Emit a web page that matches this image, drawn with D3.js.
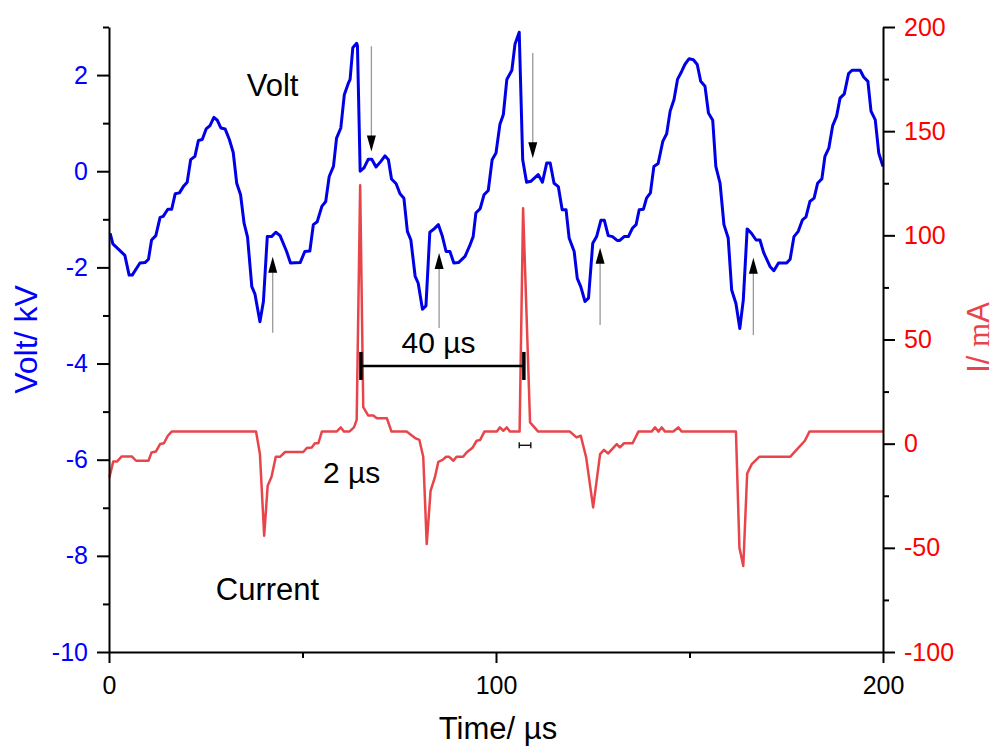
<!DOCTYPE html>
<html>
<head>
<meta charset="utf-8">
<script src="https://cdn.jsdelivr.net/npm/d3@7"></script>
<style>
  body { margin: 0; background: #fff; }
  svg { display: block; font-family: "Liberation Sans", Arial, sans-serif; }
</style>
</head>
<body>
<div id="chart"></div>
<script>
// voltage trace (time in µs, volt in kV)
const voltTime = [0.3, 1.0, 4.1, 5.2, 6.0, 8.0, 9.3, 10.2, 11.0, 12.1, 13.2, 14.0, 15.2, 16.2, 17.1, 18.2, 19.2, 20.2,
  21.1, 22.2, 23.1, 24.1, 25.1, 26.1, 27.1, 28.0, 28.9, 30.0, 31.1, 32.1, 33.0, 34.0, 34.9, 35.8, 36.9, 37.7, 39.0,
  39.9, 40.9, 42.0, 43.1, 44.2, 45.9, 46.9, 49.4, 50.6, 51.9, 52.8, 53.8, 55.0, 56.0, 56.9, 58.0, 58.8, 59.9, 60.8,
  61.8, 62.3, 63.0, 64.0, 64.2, 64.9, 65.9, 67.0, 67.9, 69.0, 70.2, 71.3, 72.2, 73.0, 74.2, 75.2, 76.2, 77.1, 78.0,
  79.1, 79.9, 81.0, 81.9, 82.9, 84.0, 85.1, 86.1, 87.1, 88.1, 89.1, 90.3, 92.0, 93.3, 94.1, 94.8, 95.9, 96.9, 98.0,
  99.0, 100.0, 101.0, 101.9, 102.8, 104.1, 104.9, 106.0, 106.9, 107.9, 109.0, 110.9, 112.0, 113.1, 114.0, 115.0,
  116.1, 117.1, 118.1, 118.9, 120.2, 121.0, 121.9, 123.0, 123.9, 125.0, 126.0, 127.1, 128.0, 129.0, 130.1, 131.3,
  132.0, 133.1, 134.2, 135.3, 136.2, 137.0, 138.1, 138.9, 139.9, 140.8, 141.9, 143.1, 144.1, 145.0, 146.0, 146.9,
  148.0, 148.8, 149.9, 151.0, 152.0, 152.9, 154.0, 154.9, 156.0, 156.8, 157.9, 158.9, 160.0, 160.9, 162.0, 163.0,
  163.9, 164.9, 166.0, 167.2, 168.2, 169.2, 170.8, 171.8, 173.0, 175.1, 176.0, 177.0, 178.1, 179.2, 180.1, 181.1,
  182.2, 183.1, 184.2, 185.0, 186.0, 187.0, 188.0, 188.9, 190.0, 191.1, 192.0, 194.1, 195.0, 196.1, 196.9, 198.0,
  198.9, 200.0];
const voltKV = [-1.29, -1.51, -1.75, -2.16, -2.16, -1.91, -1.90, -1.83, -1.43, -1.34, -0.96, -0.94, -0.79, -0.79,
  -0.47, -0.45, -0.32, -0.23, 0.24, 0.31, 0.64, 0.66, 0.88, 0.95, 1.12, 1.06, 0.90, 0.88, 0.66, 0.39, -0.25, -0.49,
  -1.08, -1.37, -2.40, -2.55, -3.13, -2.71, -1.36, -1.36, -1.27, -1.34, -1.67, -1.91, -1.90, -1.67, -1.66, -1.11,
  -1.05, -0.73, -0.63, -0.11, 0.10, 0.69, 0.90, 1.59, 1.82, 1.91, 2.57, 2.66, 2.61, 0.00, 0.07, 0.25, 0.25, 0.09,
  0.20, 0.32, 0.24, -0.16, -0.26, -0.47, -0.56, -1.25, -1.43, -2.18, -2.33, -2.87, -2.80, -1.27, -1.20, -1.11, -1.34,
  -1.67, -1.67, -1.91, -1.90, -1.77, -1.53, -1.36, -0.87, -0.78, -0.49, -0.40, 0.24, 0.38, 0.97, 1.18, 1.91, 2.10,
  2.64, 2.89, 0.24, -0.23, -0.21, -0.07, -0.23, 0.17, 0.17, -0.25, -0.32, -0.80, -0.80, -1.39, -1.67, -2.23, -2.40,
  -2.71, -2.64, -1.50, -1.36, -1.02, -1.02, -1.34, -1.36, -1.44, -1.44, -1.36, -1.36, -1.18, -1.11, -0.80, -0.79,
  -0.56, -0.45, 0.10, 0.16, 0.62, 0.78, 1.25, 1.49, 1.91, 2.08, 2.22, 2.34, 2.32, 2.22, 1.87, 1.77, 1.21, 1.06, 0.10,
  -0.25, -1.11, -1.39, -2.47, -2.75, -3.27, -2.68, -1.20, -1.29, -1.43, -1.43, -1.70, -1.98, -2.07, -1.91, -1.91,
  -1.83, -1.36, -1.25, -1.01, -0.95, -0.63, -0.56, -0.25, -0.16, 0.31, 0.48, 0.95, 1.14, 1.52, 1.61, 2.03, 2.10,
  2.10, 1.96, 1.87, 1.25, 1.07, 0.38, 0.10];

// current trace (time in µs, current in mA)
const currentTime = [0.1, 1.1, 2.1, 3.3, 5.9, 7.0, 10.2, 11.0, 12.1, 13.2, 14.2, 15.2, 16.2, 38.0, 39.0, 40.1, 41.0,
  42.0, 43.1, 44.2, 45.5, 50.2, 51.1, 52.4, 53.2, 54.1, 55.0, 58.8, 59.9, 60.7, 62.1, 63.3, 64.0, 64.9, 65.7, 67.0,
  68.3, 69.2, 71.8, 73.0, 76.9, 79.1, 80.2, 81.2, 82.1, 83.1, 84.2, 85.1, 86.2, 87.1, 87.9, 89.0, 89.8, 91.5, 92.4,
  94.0, 95.0, 95.9, 97.0, 100.2, 101.0, 101.9, 102.8, 103.6, 106.1, 107.0, 108.8, 110.9, 119.1, 120.8, 121.9, 123.3,
  125.1, 126.9, 127.9, 129.0, 131.2, 132.0, 133.1, 135.3, 136.8, 140.2, 141.1, 142.0, 142.8, 143.7, 145.8, 147.1,
  148.0, 162.0, 162.9, 163.9, 164.9, 166.1, 168.0, 176.0, 177.3, 179.8, 181.0, 200.0];
const currentMA = [-16.2, -8.5, -8.5, -6.1, -6.1, -8.2, -8.2, -4.2, -3.8, -0.2, 0.2, 3.8, 5.8, 5.8, -5.0, -44.2,
  -20.2, -15.9, -6.3, -6.3, -4.0, -4.0, -2.1, -1.8, 0.2, 0.2, 5.8, 5.8, 7.8, 5.8, 5.8, 7.8, 11.4, 124, 17.5, 13.5,
  13.5, 12.2, 12.2, 5.8, 5.8, 2.7, 1.8, -6.3, -48.2, -22.6, -16.2, -8.7, -7.8, -6.3, -6.3, -8.2, -6.3, -6.3, -4.2,
  -1.8, 1.4, 1.8, 5.8, 5.8, 7.8, 6.2, 7.8, 5.8, 5.8, 113, 10.2, 5.8, 5.8, 3.0, 3.8, -6.6, -30.6, -5.0, -3.0, -4.7,
  -0.2, -1.8, 0.2, 0.2, 5.8, 5.8, 7.8, 5.8, 7.8, 5.8, 5.8, 7.8, 5.8, 5.8, -49.9, -58.7, -14.3, -9.8, -6.3, -6.3,
  -3.7, 1.4, 5.8, 5.8];

const timeTicks = [0, 100, 200];
const timeMinorTicks = [50, 150];
const voltTicks = [-10, -8, -6, -4, -2, 0, 2];
const voltMinorTicks = [-9, -7, -5, -3, -1, 1, 3];
const currentTicks = [-100, -50, 0, 50, 100, 150, 200];
const currentMinorTicks = [-75, -25, 25, 75, 125, 175];

const width = 995;
const height = 747;
const plot = { left: 109, right: 883, top: 27, bottom: 652 };

const blue = '#0000e6';
const red = '#e8454b';
// plain hyphen for negatives, like the original
const plainFormat = (d) => String(d);

const svg = d3.select('#chart').append('svg')
  .attr('width', width)
  .attr('height', height);

const x = d3.scaleLinear().domain([0, 200]).range([plot.left, plot.right]);
const yVolt = d3.scaleLinear().domain([-10, 3]).range([plot.bottom, plot.top]);
const yCurrent = d3.scaleLinear().domain([-100, 200]).range([plot.bottom, plot.top]);

// traces
const currentLine = d3.line()
  .x((d, i) => x(currentTime[i]))
  .y((d) => yCurrent(d));
svg.append('path')
  .attr('d', currentLine(currentMA))
  .attr('fill', 'none')
  .attr('stroke', red)
  .attr('stroke-width', 2.5)
  .attr('stroke-linejoin', 'round');

const voltLine = d3.line()
  .x((d, i) => x(voltTime[i]))
  .y((d) => yVolt(d));
svg.append('path')
  .attr('d', voltLine(voltKV))
  .attr('fill', 'none')
  .attr('stroke', blue)
  .attr('stroke-width', 3)
  .attr('stroke-linejoin', 'round');

// arrows pointing at the voltage steps
function arrow(t, vFrom, vTo) {
  const px = x(t);
  const y0 = yVolt(vFrom);
  const y1 = yVolt(vTo);
  const dir = y1 < y0 ? 1 : -1;
  svg.append('line')
    .attr('x1', px).attr('x2', px)
    .attr('y1', y0).attr('y2', y1 + dir * 14)
    .attr('stroke', '#999')
    .attr('stroke-width', 1.3);
  svg.append('path')
    .attr('d', `M${px},${y1} L${px - 4.5},${y1 + dir * 16} L${px + 4.5},${y1 + dir * 16} Z`)
    .attr('fill', '#000');
}
arrow(42.3, -3.36, -1.78);
arrow(85.3, -3.26, -1.70);
arrow(126.9, -3.20, -1.59);
arrow(166.5, -3.41, -1.80);
arrow(67.8, 2.60, 0.41);
arrow(109.5, 2.46, 0.27);

// 40 µs bracket
const barY = yVolt(-4.05);
svg.append('line')
  .attr('x1', x(65.1)).attr('x2', x(107.2))
  .attr('y1', barY).attr('y2', barY)
  .attr('stroke', '#000').attr('stroke-width', 2.5);
[65.1, 107.2].forEach((t) => {
  svg.append('line')
    .attr('x1', x(t)).attr('x2', x(t))
    .attr('y1', barY - 14).attr('y2', barY + 14)
    .attr('stroke', '#000').attr('stroke-width', 3.5);
});

// small 2 µs marker
const smallY = yVolt(-5.70);
svg.append('line')
  .attr('x1', x(106.0)).attr('x2', x(109.0))
  .attr('y1', smallY).attr('y2', smallY)
  .attr('stroke', '#000').attr('stroke-width', 1.3);
[106.0, 109.0].forEach((t) => {
  svg.append('line')
    .attr('x1', x(t)).attr('x2', x(t))
    .attr('y1', smallY - 3).attr('y2', smallY + 3)
    .attr('stroke', '#000').attr('stroke-width', 1.3);
});

// text labels
function label(text, t, v, size) {
  svg.append('text')
    .attr('x', x(t))
    .attr('y', yVolt(v))
    .attr('font-size', size)
    .attr('fill', '#000')
    .text(text);
}
label('Volt', 35.6, 1.56, 31);
label('Current', 27.6, -8.92, 31);
label('40 µs', 75.6, -3.78, 30);
label('2 µs', 55.3, -6.49, 30);

// axes
function styleAxis(g, color, size) {
  g.select('.domain').attr('stroke', '#000').attr('stroke-width', 2);
  g.selectAll('.tick line').attr('stroke', '#000').attr('stroke-width', 2);
  g.selectAll('.tick text')
    .attr('fill', color)
    .attr('font-size', size)
    .attr('font-family', '"Liberation Sans", Arial, sans-serif');
}

const bottomMinor = svg.append('g')
  .attr('transform', `translate(0,${plot.bottom})`)
  .call(d3.axisBottom(x).tickValues(timeMinorTicks).tickSize(6).tickFormat(''));
bottomMinor.select('.domain').remove();
styleAxis(bottomMinor, '#000', 25);

const bottomAxis = svg.append('g')
  .attr('transform', `translate(0,${plot.bottom})`)
  .call(d3.axisBottom(x).tickValues(timeTicks).tickFormat(plainFormat)
    .tickSize(11).tickSizeOuter(0).tickPadding(13));
styleAxis(bottomAxis, '#000', 25);

const leftMinor = svg.append('g')
  .attr('transform', `translate(${plot.left},0)`)
  .call(d3.axisLeft(yVolt).tickValues(voltMinorTicks).tickSize(6).tickFormat(''));
leftMinor.select('.domain').remove();
styleAxis(leftMinor, blue, 25);

const leftAxis = svg.append('g')
  .attr('transform', `translate(${plot.left},0)`)
  .call(d3.axisLeft(yVolt).tickValues(voltTicks).tickFormat(plainFormat)
    .tickSize(12).tickSizeOuter(0).tickPadding(9));
styleAxis(leftAxis, '#0000ff', 25);

const rightMinor = svg.append('g')
  .attr('transform', `translate(${plot.right},0)`)
  .call(d3.axisRight(yCurrent).tickValues(currentMinorTicks).tickSize(6).tickFormat(''));
rightMinor.select('.domain').remove();
styleAxis(rightMinor, red, 25);

const rightAxis = svg.append('g')
  .attr('transform', `translate(${plot.right},0)`)
  .call(d3.axisRight(yCurrent).tickValues(currentTicks).tickFormat(plainFormat)
    .tickSize(12).tickSizeOuter(0).tickPadding(9));
styleAxis(rightAxis, '#ff0000', 25);

// axis titles
svg.append('text')
  .attr('transform', `translate(37,${(plot.top + plot.bottom) / 2}) rotate(-90)`)
  .attr('text-anchor', 'middle')
  .attr('font-size', 32)
  .attr('fill', '#0000ff')
  .text('Volt/ kV');

const rightTitle = svg.append('text')
  .attr('transform', `translate(989,${(plot.top + plot.bottom) / 2 - 2}) rotate(-90)`)
  .attr('text-anchor', 'middle')
  .attr('font-size', 31)
  .attr('fill', red);
rightTitle.append('tspan').text('I/ ');
rightTitle.append('tspan').attr('font-family', '"Liberation Serif", serif').text('m');
rightTitle.append('tspan').text('A');

svg.append('text')
  .attr('x', (plot.left + plot.right) / 2 + 2)
  .attr('y', 739)
  .attr('text-anchor', 'middle')
  .attr('font-size', 31)
  .attr('fill', '#000')
  .text('Time/ µs');
</script>
</body>
</html>
